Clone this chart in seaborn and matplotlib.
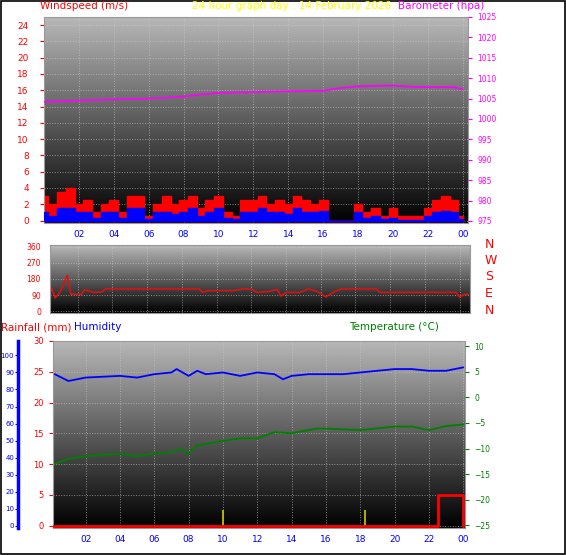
import numpy as np
import pandas as pd
import seaborn as sns
import matplotlib.pyplot as plt

# ---- data ----
wind_hours = [i * 0.5 for i in range(49)]
gust = [3, 2, 3.5, 4, 2, 2.5, 1, 2, 2.5, 1, 3, 3, 0.5, 2, 3, 2, 2.5, 3, 1.5, 2.5,
        3, 1, 0.5, 2.5, 2.5, 3, 2, 2.5, 2, 3, 2.5, 2, 2.5, 0, 0, 0, 2, 1, 1.5, 0.5,
        1.5, 0.5, 0.5, 0.5, 1.5, 2.5, 3, 2.5, 0.5]
avg = [1, 0.5, 1.5, 1.5, 1, 1, 0.3, 1, 1, 0.3, 1.5, 1.5, 0.2, 1, 1, 0.8, 1, 1.5, 0.5, 1,
       1.5, 0.3, 0.2, 1, 1, 1.5, 1, 1, 0.8, 1.5, 1, 1, 1.2, 0, 0, 0, 1, 0.3, 0.5, 0.2,
       0.3, 0.1, 0.1, 0.1, 0.5, 1, 1.2, 1, 0.2]

baro_hours = [0, 2, 4, 6, 8, 9, 10, 12, 14, 16, 17, 18, 20, 21, 22, 23.5, 24]
baro = [1004.2, 1004.5, 1004.8, 1005.0, 1005.5, 1006.0, 1006.4, 1006.6, 1006.8, 1006.9,
        1007.6, 1008.0, 1008.2, 1007.9, 1007.8, 1007.8, 1007.3]

dir_hours = [0.4, 0.7, 1.0, 1.4, 1.6, 2.2, 2.4, 2.9, 3.4, 3.6, 9.0, 9.2, 9.5, 11.0, 11.5,
             12.0, 12.3, 13.0, 13.5, 13.7, 14.0, 14.8, 15.3, 15.8, 16.3, 16.7, 17.2, 17.6,
             19.2, 19.4, 23.8, 24.0, 24.3, 24.5]
direction = [150, 75, 110, 200, 95, 95, 120, 105, 108, 125, 125, 105, 115, 115, 125,
             125, 105, 110, 122, 85, 105, 105, 125, 110, 80, 105, 125, 125,
             125, 105, 105, 80, 95, 95]

hum_hours = [0.2, 1, 2, 4, 5, 6, 7, 7.3, 8, 8.5, 9, 10, 11, 12, 13, 13.5, 14, 15, 16, 17,
             18, 19, 20, 21, 22, 23, 24]
humidity = [89, 85, 87, 88, 87, 89, 90, 92, 88, 91, 89, 90, 88, 90, 89, 86, 88, 89, 89, 89,
            90, 91, 92, 92, 91, 91, 93]

temp_hours = [0.2, 1, 2, 4, 5, 6, 7, 7.5, 8, 8.5, 10, 11, 12, 13, 14, 15.5, 16, 18, 20, 21,
              22, 23, 24]
temp = [-13, -12, -11.5, -11, -11.5, -11, -10.7, -10, -11, -9.4, -8.5, -8, -8, -6.8, -7,
        -6.1, -6.1, -6.4, -5.7, -5.7, -6.4, -5.6, -5.3]

rain_hours = [0.1, 22.5, 22.5, 24.0, 24.0]
rain = [0, 0, 5, 5, 0]
marker_hours = [10.0, 18.3]
marker_rain = [2.6, 2.6]

hour_ticks = [2, 4, 6, 8, 10, 12, 14, 16, 18, 20, 22, 24]
hour_labels = ['02', '04', '06', '08', '10', '12', '14', '16', '18', '20', '22', '00']

sns.set_style('white')
plt.rcParams['font.family'] = ['DejaVu Sans']
plt.rcParams['font.size'] = 6.5

W, H = 566, 555
fig = plt.figure(figsize=(W / 100, H / 100), dpi=100)


def px_axes(x0, y0, x1, y1):
    return fig.add_axes([x0 / W, 1 - y1 / H, (x1 - x0) / W, (y1 - y0) / H])


grad = np.linspace(0.72, 0.0, 256).reshape(-1, 1)


def style(ax, xlo, xhi, xticks=True):
    ax.imshow(grad, cmap='gray', vmin=0, vmax=1, aspect='auto',
              extent=[0, 1, 0, 1], transform=ax.transAxes, zorder=0)
    ax.set_xlim(xlo, xhi)
    ax.set_xticks(hour_ticks)
    ax.set_xticklabels(hour_labels if xticks else [], color='blue')
    ax.grid(True, color='#cccccc', linestyle=':', linewidth=0.7, alpha=0.6)
    ax.tick_params(axis='x', length=0, pad=5)
    for s in ax.spines.values():
        s.set_color('#999999')


# ---- top: wind + barometer ----
ax1 = px_axes(44, 17, 468, 223)
style(ax1, 0, 24.3)
ax1.fill_between(wind_hours, gust, step='mid', color='red', zorder=2)
ax1.fill_between(wind_hours, avg, step='mid', color='blue', zorder=3)
ax1.set_ylim(-0.3, 25)
ax1.set_yticks(range(0, 25, 2))
ax1.tick_params(axis='y', colors='red', length=3, pad=8)
ax1b = ax1.twinx()
sns.lineplot(x=baro_hours, y=baro, ax=ax1b, color='magenta', linewidth=1.3)
ax1b.set_ylim(974.5, 1025)
ax1b.set_yticks(range(975, 1026, 5))
ax1b.tick_params(axis='y', colors='magenta', length=3, labelsize=5.5)
for s in ax1b.spines.values():
    s.set_visible(False)

# ---- middle: wind direction ----
ax2 = px_axes(50, 245, 470, 313)
style(ax2, 0.4, 24.6, xticks=False)
sns.lineplot(x=dir_hours, y=direction, ax=ax2, color='#dd1111', linewidth=1.2,
             sort=False, estimator=None)
ax2.set_ylim(-10, 370)
ax2.set_yticks([0, 90, 180, 270, 360])
ax2.tick_params(axis='y', colors='red', length=3, labelsize=5.5)
for i, lab in enumerate(['N', 'E', 'S', 'W', 'N']):
    fig.text(485 / W, 1 - (310 - i * 16.5) / H, lab, color='red', fontsize=9, va='center')

# ---- bottom: rain, humidity, temperature ----
ax3 = px_axes(53, 341, 465, 528)
style(ax3, 0.1, 24.1)
ax3.set_ylim(-0.4, 30)
ax3.set_yticks(range(0, 31, 5))
ax3.tick_params(axis='y', colors='red', length=3, labelsize=6)
ax3.vlines(marker_hours, 0, marker_rain, color='#cccc00', linewidth=1.2, zorder=3)
sns.lineplot(x=rain_hours, y=rain, ax=ax3, color='red', linewidth=2, sort=False,
             estimator=None, zorder=4)

ax3h = ax3.twinx()
ax3h.spines['right'].set_visible(False)
ax3h.spines['top'].set_visible(False)
ax3h.spines['bottom'].set_visible(False)
ax3h.spines['left'].set_position(('outward', 25))
ax3h.spines['left'].set_color('blue')
ax3h.spines['left'].set_linewidth(2.5)
ax3h.yaxis.set_ticks_position('left')
ax3h.yaxis.set_label_position('left')
sns.lineplot(x=hum_hours, y=humidity, ax=ax3h, color='blue', linewidth=1.3)
ax3h.set_ylim(-1.4, 108.5)
ax3h.set_yticks(range(0, 101, 10))
ax3h.tick_params(axis='y', colors='blue', length=2, pad=1, labelsize=5)

ax3t = ax3.twinx()
for s in ax3t.spines.values():
    s.set_visible(False)
sns.lineplot(x=temp_hours, y=temp, ax=ax3t, color='green', linewidth=1.3)
ax3t.set_ylim(-25.5, 11)
ax3t.set_yticks(range(-25, 11, 5))
ax3t.tick_params(axis='y', colors='green', length=3, labelsize=5.5)

# ---- titles ----
fig.text(40 / W, 1 - 6 / H, 'Windspeed (m/s)', color='red', fontsize=7.5, va='center')
fig.text(292 / W, 1 - 6 / H, '24 hour graph day : 14 February 2026', color='yellow',
         fontsize=7.5, va='center', ha='center')
fig.text(484 / W, 1 - 6 / H, 'Barometer (hpa)', color='magenta', fontsize=7.5, va='center', ha='right')
fig.text(1 / W, 1 - 327 / H, 'Rainfall (mm)', color='red', fontsize=7.5, va='center')
fig.text(74 / W, 1 - 327 / H, 'Humidity', color='blue', fontsize=7.5, va='center')
fig.text(349 / W, 1 - 327 / H, 'Temperature (°C)', color='green', fontsize=7.5, va='center')

fig.patches.append(plt.Rectangle((0.002, 0.002), 0.996, 0.996, transform=fig.transFigure,
                                 fill=False, edgecolor='black', linewidth=1.2))

fig.savefig('out.png', dpi=100)
